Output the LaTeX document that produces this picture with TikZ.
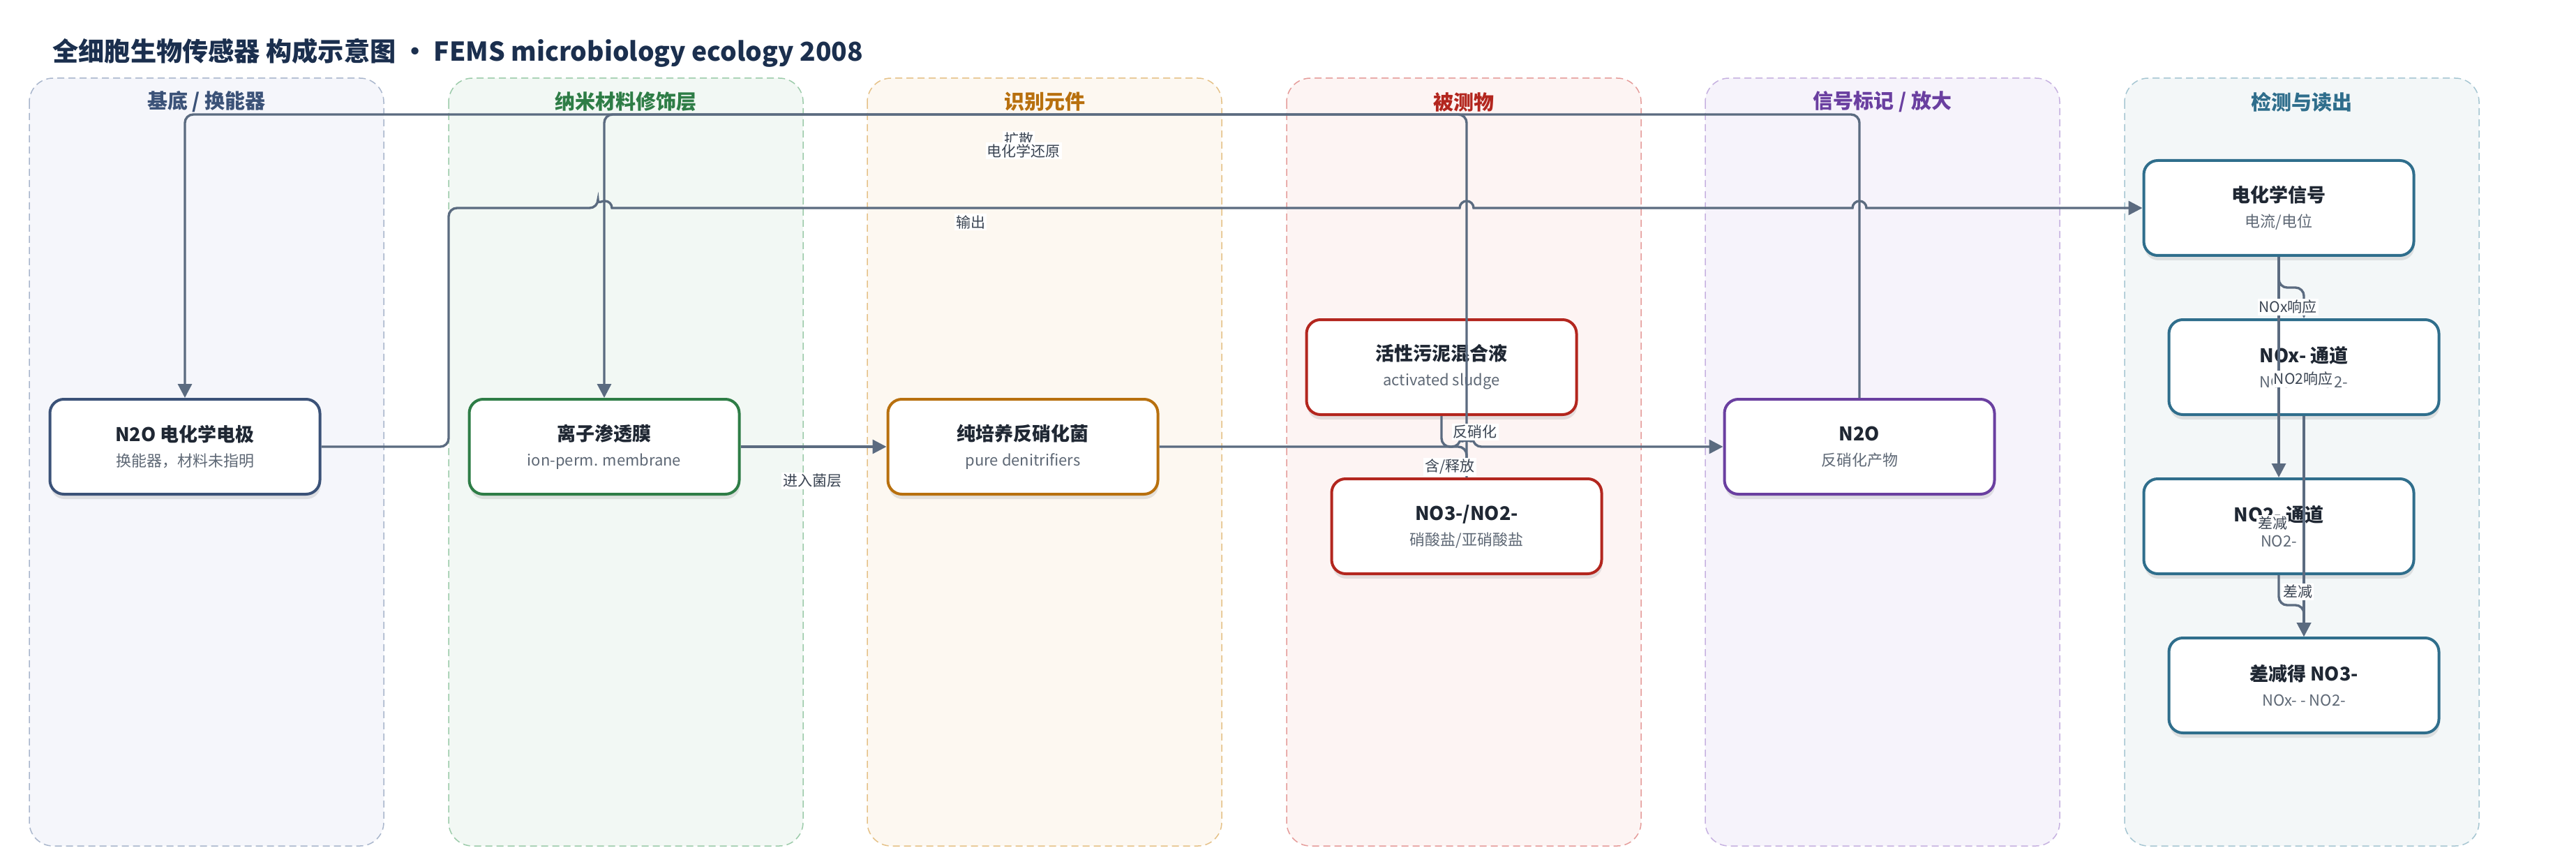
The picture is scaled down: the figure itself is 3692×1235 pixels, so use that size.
\documentclass[tikz,border=0pt]{standalone}
\usepackage{fontspec}
\setmainfont{Noto Sans CJK SC}
\usetikzlibrary{arrows.meta,shadows}

\definecolor{edgec}{HTML}{5B6B80}
\definecolor{titlec}{HTML}{1B2F4E}
\definecolor{inkc}{HTML}{1F2733}
\definecolor{subc}{HTML}{5E6875}
\definecolor{lblc}{HTML}{3A4452}
\definecolor{laneAf}{HTML}{F5F6FB}\definecolor{laneAd}{HTML}{A9B6CC}\definecolor{laneAt}{HTML}{3B5278}
\definecolor{laneBf}{HTML}{F2F8F4}\definecolor{laneBd}{HTML}{9CCBAA}\definecolor{laneBt}{HTML}{2E7D46}
\definecolor{laneCf}{HTML}{FDF8F1}\definecolor{laneCd}{HTML}{E5C187}\definecolor{laneCt}{HTML}{B8700E}
\definecolor{laneDf}{HTML}{FDF4F3}\definecolor{laneDd}{HTML}{E59C9A}\definecolor{laneDt}{HTML}{B3261E}
\definecolor{laneEf}{HTML}{F6F3FB}\definecolor{laneEd}{HTML}{C6B1E0}\definecolor{laneEt}{HTML}{6A3FA0}
\definecolor{laneFf}{HTML}{F3F7F8}\definecolor{laneFd}{HTML}{A6C6D2}\definecolor{laneFt}{HTML}{2F6E8C}

\newcommand{\boxtext}[2]{{\fontsize{13.5}{18}\selectfont\bfseries\color{inkc}#1}\\{\color{subc}#2}}

\begin{document}
\begin{tikzpicture}[x=0.5pt,y=-0.5pt]

\tikzstyle{lane}=[line width=0.75pt, dash pattern=on 5pt off 3pt, rounded corners=17pt]
\tikzstyle{lanetitle}=[font=\fontsize{14.5}{17}\selectfont\bfseries]
\tikzstyle{box}=[rectangle, draw, fill=white, rounded corners=10pt, line width=2pt, minimum width=193.5pt, minimum height=68pt, align=center, font=\fontsize{11}{18}\selectfont, drop shadow={shadow xshift=0.5pt, shadow yshift=-3.5pt, opacity=0.2}]
\tikzstyle{wire}=[draw=edgec, line width=1.7pt, rounded corners=6pt]
\tikzstyle{arrow}=[wire, -{Triangle[length=10pt,width=10pt]}]
\tikzstyle{lbl}=[fill=white, inner sep=1pt, text=lblc, font=\fontsize{10.5}{12}\selectfont]

\useasboundingbox (0,0) rectangle (3692,1235);

\node[anchor=west, inner sep=0pt, text=titlec, font=\fontsize{18.6}{22}\selectfont\bfseries] (T) at (75,76) {全细胞生物传感器 构成示意图 · FEMS microbiology ecology 2008};

% lanes
\draw[lane, fill=laneAf, draw=laneAd] (42,112) rectangle (550,1212);
\draw[lane, fill=laneBf, draw=laneBd] (643,112) rectangle (1151,1212);
\draw[lane, fill=laneCf, draw=laneCd] (1243,112) rectangle (1751,1212);
\draw[lane, fill=laneDf, draw=laneDd] (1844,112) rectangle (2352,1212);
\draw[lane, fill=laneEf, draw=laneEd] (2444,112) rectangle (2952,1212);
\draw[lane, fill=laneFf, draw=laneFd] (3045,112) rectangle (3553,1212);

\node[lanetitle, text=laneAt] (LA) at (296,146) {基底 / 换能器};
\node[lanetitle, text=laneBt] (LB) at (897,146) {纳米材料修饰层};
\node[lanetitle, text=laneCt] (LC) at (1497,146) {识别元件};
\node[lanetitle, text=laneDt] (LD) at (2098,146) {被测物};
\node[lanetitle, text=laneEt] (LE) at (2698,146) {信号标记 / 放大};
\node[lanetitle, text=laneFt] (LF) at (3299,146) {检测与读出};

% nodes
\node (A) [box, draw=laneAt] at (265,640)  {\boxtext{N2O 电化学电极}{换能器，材料未指明}};
\node (B) [box, draw=laneBt] at (866,640)  {\boxtext{离子渗透膜}{ion-perm. membrane}};
\node (C) [box, draw=laneCt] at (1466,640) {\boxtext{纯培养反硝化菌}{pure denitrifiers}};
\node (D) [box, draw=laneDt] at (2066,526) {\boxtext{活性污泥混合液}{activated sludge}};
\node (E) [box, draw=laneDt] at (2102,754) {\boxtext{NO3-/NO2-}{硝酸盐/亚硝酸盐}};
\node (F) [box, draw=laneEt] at (2665,640) {\boxtext{N2O}{反硝化产物}};
\node (G) [box, draw=laneFt] at (3266,298) {\boxtext{电化学信号}{电流/电位}};
\node (H) [box, draw=laneFt] at (3302,526) {\boxtext{NOx- 通道}{NO3- + NO2-}};
\node (I) [box, draw=laneFt] at (3266,754) {\boxtext{NO2- 通道}{NO2-}};
\node (J) [box, draw=laneFt] at (3302,982) {\boxtext{差减得 NO3-}{NOx- - NO2-}};

\coordinate (bus) at (0,164);

% connectors
\draw[arrow] (F.north) -- (F.north |- bus) -- (A.north |- bus) -- (A.north);
\draw[arrow] (E.north) -- (E.north |- bus) -- (B.north |- bus) -- (B.north);
\draw[arrow] (A.east) -- (643,640) -- (643,298) -- (857,298) [sharp corners]
  arc[start angle=180, end angle=0, radius=5pt] -- (2092,298)
  arc[start angle=180, end angle=0, radius=5pt] -- (2655,298)
  arc[start angle=180, end angle=0, radius=5pt] -- (G.west);
\draw[arrow] (B.east) -- (C.west);
\draw[arrow] (C.east) -- (2093,640) arc[start angle=180, end angle=0, radius=4.5pt] -- (F.west);
\draw[arrow] (D.south) -- (D.south |- C.east) -- (E.north |- C.east) -- (E.north);
\draw[arrow] (G.south) -- (G.south |- 0,412) -- (H.north |- 0,412) -- (H.north);
\draw[arrow] (G.south) -- (I.north);
\draw[arrow] (H.south) -- (J.north);
\draw[arrow] (I.south) -- (I.south |- 0,867) -- (J.north |- 0,867) -- (J.north);

% labels
\node[lbl] (l1)  at (1460,200) {扩散};
\node[lbl] (l2)  at (1467,216) {电化学还原};
\node[lbl] (l3)  at (1391,318) {输出};
\node[lbl] (l4)  at (1164,689) {进入菌层};
\node[lbl] (l5)  at (2114,619) {反硝化};
\node[lbl] (l6)  at (2078,669) {含/释放};
\node[lbl] (l7)  at (3279,440) {NOx响应};
\node[lbl] (l8)  at (3301,543) {NO2响应};
\node[lbl] (l9)  at (3257,750) {差减};
\node[lbl] (l10) at (3293,848) {差减};

\end{tikzpicture}
\end{document}
